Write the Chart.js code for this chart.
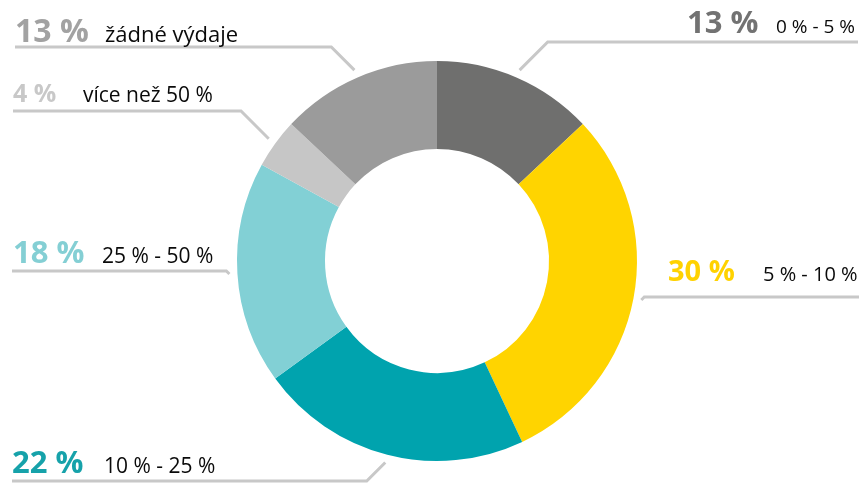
<!DOCTYPE html>
<html>
<head>
<meta charset="utf-8">
<script src="https://cdn.jsdelivr.net/npm/chart.js@4/dist/chart.umd.min.js"></script>
<style>
  html, body { margin: 0; background: #fff; }
  canvas { display: block; }
</style>
</head>
<body>
<canvas id="spendChart" width="865" height="483"></canvas>
<script>
const categories = ["0 % - 5 %", "5 % - 10 %", "10 % - 25 %", "25 % - 50 %", "více než 50 %", "žádné výdaje"];
const shares = [13, 30, 22, 18, 4, 13];
const sliceColors = ["#6f6f6e", "#ffd400", "#00a3ae", "#82d0d5", "#c6c6c6", "#9b9b9b"];
const numberColors = ["#727272", "#ffd200", "#16a2aa", "#84cfd4", "#c8c8c8", "#a2a2a2"];

// where each callout sits: underline y, far end of underline, text starts, baseline, font sizes
const labelLayout = [
  { lineY: 42,  endX: 858, numX: 687, textX: 776, base: 33,  numSize: 31, textSize: 19 },
  { lineY: 297, endX: 859, numX: 668, textX: 763, base: 281, numSize: 29, textSize: 20 },
  { lineY: 481, endX: 12,  numX: 12,  textX: 104, base: 473, numSize: 31, textSize: 21 },
  { lineY: 271, endX: 12,  numX: 13,  textX: 102, base: 263, numSize: 31, textSize: 21 },
  { lineY: 111, endX: 13,  numX: 13,  textX: 83,  base: 102, numSize: 25, textSize: 21 },
  { lineY: 47,  endX: 15,  numX: 15,  textX: 105, base: 42,  numSize: 32, textSize: 22 }
];

const FONT = '"Open Sans", "Noto Sans", sans-serif';

const callouts = {
  id: "callouts",
  afterDraw(chart) {
    const ctx = chart.ctx;
    const meta = chart.getDatasetMeta(0);
    ctx.save();
    meta.data.forEach((arc, i) => {
      const p = arc.getProps(["x", "y", "startAngle", "endAngle", "outerRadius"], true);
      const lay = labelLayout[i];
      const mid = (p.startAngle + p.endAngle) / 2;
      const sx = p.x + Math.cos(mid) * (p.outerRadius + 8);
      const sy = p.y + Math.sin(mid) * (p.outerRadius + 8);
      const dir = Math.sign(lay.endX - sx);
      const ex = sx + dir * Math.abs(lay.lineY - sy);

      ctx.strokeStyle = "#c8c8c8";
      ctx.lineWidth = 3;
      ctx.beginPath();
      ctx.moveTo(sx, sy);
      ctx.lineTo(ex, lay.lineY);
      ctx.lineTo(lay.endX, lay.lineY);
      ctx.stroke();

      ctx.textBaseline = "alphabetic";
      ctx.textAlign = "left";
      ctx.fillStyle = numberColors[i];
      ctx.font = `bold ${lay.numSize}px ${FONT}`;
      ctx.fillText(shares[i] + " %", lay.numX, lay.base);
      ctx.fillStyle = "#0a0a0a";
      ctx.font = `500 ${lay.textSize}px ${FONT}`;
      ctx.fillText(categories[i], lay.textX, lay.base);
    });
    ctx.restore();
  }
};

new Chart(document.getElementById("spendChart"), {
  type: "doughnut",
  data: {
    labels: categories,
    datasets: [{
      data: shares,
      backgroundColor: sliceColors,
      borderWidth: 0
    }]
  },
  options: {
    responsive: false,
    animation: false,
    cutout: "56%",
    layout: { padding: { left: 9, top: 61, bottom: 22, right: 0 } },
    plugins: {
      legend: { display: false },
      tooltip: { enabled: false }
    }
  },
  plugins: [callouts]
});
</script>
</body>
</html>
